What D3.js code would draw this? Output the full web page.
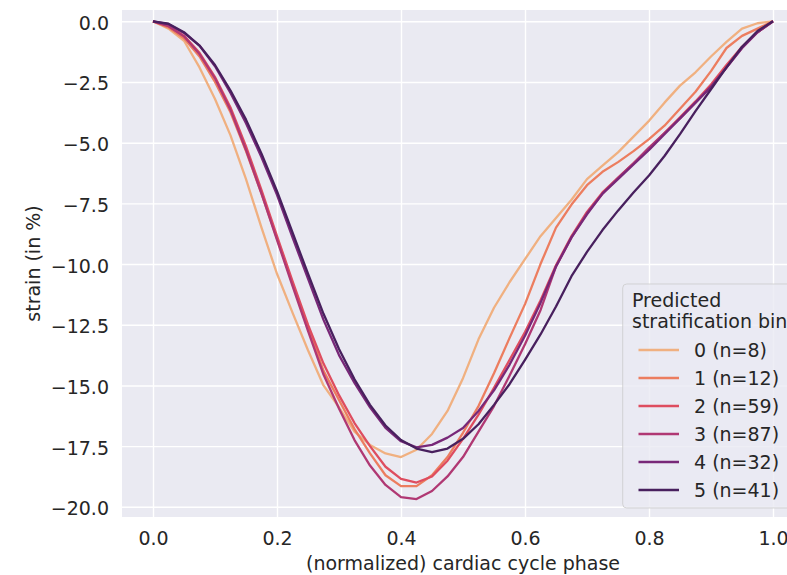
<!DOCTYPE html>
<html>
<head>
<meta charset="utf-8">
<script src="https://cdn.jsdelivr.net/npm/d3@7"></script>
<style>
  html, body { margin: 0; padding: 0; background: #ffffff; }
  svg { display: block; font-family: "DejaVu Sans", sans-serif; }
</style>
</head>
<body>
<svg id="chart" width="787" height="575"></svg>
<script>
// ---------------- data ----------------
const phase = [0, 0.025, 0.05, 0.075, 0.1, 0.125, 0.15, 0.175, 0.2, 0.225, 0.25, 0.275, 0.3, 0.325, 0.35, 0.375, 0.4, 0.425, 0.45, 0.475, 0.5, 0.525, 0.55, 0.575, 0.6, 0.625, 0.65, 0.675, 0.7, 0.725, 0.75, 0.775, 0.8, 0.825, 0.85, 0.875, 0.9, 0.925, 0.95, 0.975, 1];

const bin0 = [0, -0.3, -0.8, -1.9, -3.2, -4.7, -6.5, -8.5, -10.4, -12.0, -13.55, -15.0, -15.9, -16.9, -17.45, -17.8, -17.95, -17.65, -17.0, -16.05, -14.7, -13.1, -11.8, -10.75, -9.8, -8.85, -8.1, -7.35, -6.5, -5.95, -5.4, -4.75, -4.1, -3.35, -2.65, -2.1, -1.45, -0.85, -0.3, -0.08, 0];
const bin1 = [0, -0.25, -0.7, -1.45, -2.5, -3.75, -5.35, -7.1, -8.95, -10.8, -12.6, -14.4, -15.6, -16.8, -17.8, -18.7, -19.15, -19.15, -18.7, -17.95, -16.95, -15.85, -14.5, -13.05, -11.65, -10.0, -8.5, -7.55, -6.75, -6.2, -5.8, -5.35, -4.85, -4.3, -3.6, -2.9, -2.05, -1.1, -0.6, -0.3, 0];
const bin2 = [0, -0.18, -0.6, -1.3, -2.3, -3.55, -5.15, -6.95, -8.85, -10.7, -12.5, -14.1, -15.4, -16.55, -17.5, -18.35, -18.85, -19.0, -18.75, -18.1, -17.2, -16.2, -15.1, -13.95, -12.8, -11.5, -10.05, -8.85, -7.85, -7.05, -6.45, -5.85, -5.25, -4.6, -3.95, -3.3, -2.6, -1.8, -1.05, -0.45, 0];
const bin3 = [0, -0.2, -0.62, -1.35, -2.35, -3.65, -5.3, -7.1, -9.0, -10.9, -12.75, -14.55, -15.95, -17.25, -18.3, -19.1, -19.6, -19.68, -19.35, -18.75, -17.95, -16.9, -15.85, -14.6, -13.3, -11.9, -10.1, -8.9, -7.9, -7.1, -6.45, -5.85, -5.2, -4.6, -4.0, -3.35, -2.68, -1.9, -1.1, -0.45, 0];
const bin4 = [0, -0.12, -0.48, -1.0, -1.85, -2.95, -4.2, -5.6, -7.15, -8.9, -10.6, -12.3, -13.75, -14.9, -15.9, -16.75, -17.3, -17.55, -17.45, -17.15, -16.75, -16.05, -15.2, -14.15, -12.95, -11.6, -10.1, -8.9, -7.95, -7.1, -6.5, -5.9, -5.3, -4.65, -4.0, -3.35, -2.7, -1.9, -1.1, -0.45, 0];
const bin5 = [0, -0.1, -0.45, -1.0, -1.8, -2.85, -4.05, -5.45, -7.0, -8.7, -10.4, -12.05, -13.5, -14.75, -15.8, -16.65, -17.25, -17.6, -17.75, -17.6, -17.2, -16.6, -15.8, -14.95, -13.95, -12.9, -11.75, -10.5, -9.5, -8.6, -7.8, -7.05, -6.35, -5.55, -4.65, -3.7, -2.8, -1.9, -1.05, -0.4, 0];

const seriesLabels = ["0 (n=8)", "1 (n=12)", "2 (n=59)", "3 (n=87)", "4 (n=32)", "5 (n=41)"];
const seriesValues = [bin0, bin1, bin2, bin3, bin4, bin5];
const seriesColors = ["#f0b080", "#ec7d5f", "#de4d5f", "#b03873", "#782878", "#48205e"];

const xTicks = [0, 0.2, 0.4, 0.6, 0.8, 1.0];
const yTicks = [0, -2.5, -5, -7.5, -10, -12.5, -15, -17.5, -20];

const legendTitle = ["Predicted", "stratification bin"];
const xLabel = "(normalized) cardiac cycle phase";
const yLabel = "strain (in %)";

// ---------------- layout ----------------
const svg = d3.select("#chart");
const pLeft = 122, pRight = 804, pTop = 10, pBottom = 517;
const textColor = "#262626";
const fontSize = 19;

const x = d3.scaleLinear().domain([-0.05, 1.05]).range([pLeft, pRight]);
const y = d3.scaleLinear().domain([-20.42, 0.466]).range([pBottom, pTop]);

// plot background
svg.append("rect")
  .attr("x", pLeft).attr("y", pTop)
  .attr("width", pRight - pLeft).attr("height", pBottom - pTop)
  .attr("fill", "#EAEAF2");

// grid
const gx = svg.append("g")
  .attr("transform", `translate(0,${pBottom})`)
  .call(d3.axisBottom(x).tickValues(xTicks).tickSize(-(pBottom - pTop)).tickFormat(""));
const gy = svg.append("g")
  .attr("transform", `translate(${pLeft},0)`)
  .call(d3.axisLeft(y).tickValues(yTicks).tickSize(-(pRight - pLeft)).tickFormat(""));
[gx, gy].forEach(g => {
  g.select(".domain").remove();
  g.selectAll(".tick line").attr("stroke", "#ffffff").attr("stroke-width", 1.4);
});

// tick labels
const fmt = d3.format(".1f");
const ax = svg.append("g")
  .attr("transform", `translate(0,${pBottom})`)
  .call(d3.axisBottom(x).tickValues(xTicks).tickSize(0).tickPadding(15).tickFormat(fmt));
const ay = svg.append("g")
  .attr("transform", `translate(${pLeft},0)`)
  .call(d3.axisLeft(y).tickValues(yTicks).tickSize(0).tickPadding(13).tickFormat(fmt));
[ax, ay].forEach(g => {
  g.select(".domain").remove();
  g.selectAll(".tick line").remove();
  g.selectAll(".tick text")
    .attr("fill", textColor)
    .style("font-size", fontSize + "px")
    .style("font-family", "'DejaVu Sans', sans-serif");
});
ay.selectAll(".tick text").attr("dy", "0.42em");

// axis labels
svg.append("text")
  .attr("x", (pLeft + pRight) / 2).attr("y", 570)
  .attr("text-anchor", "middle")
  .attr("fill", textColor)
  .style("font-size", fontSize + "px")
  .text(xLabel);
svg.append("text")
  .attr("transform", `translate(39.5,${(pTop + pBottom) / 2}) rotate(-90)`)
  .attr("text-anchor", "middle")
  .attr("fill", textColor)
  .style("font-size", fontSize + "px")
  .text(yLabel);

// lines
const line = d3.line()
  .x((d, i) => x(phase[i]))
  .y(d => y(d));

svg.append("clipPath").attr("id", "plotclip")
  .append("rect").attr("x", pLeft).attr("y", pTop).attr("width", pRight - pLeft).attr("height", pBottom - pTop);

svg.append("g").attr("clip-path", "url(#plotclip)")
  .selectAll("path")
  .data(seriesValues)
  .join("path")
  .attr("d", d => line(d))
  .attr("fill", "none")
  .attr("stroke", (d, i) => seriesColors[i])
  .attr("stroke-width", 2.3)
  .attr("stroke-linejoin", "round")
  .attr("stroke-linecap", "butt");

// legend
const lg = svg.append("g");
lg.append("rect")
  .attr("x", 622.7).attr("y", 284)
  .attr("width", 200).attr("height", 224)
  .attr("rx", 4).attr("ry", 4)
  .attr("fill", "#EAEAF2").attr("fill-opacity", 0.8)
  .attr("stroke", "#cccccc").attr("stroke-opacity", 0.8).attr("stroke-width", 1);

lg.selectAll("text.title")
  .data(legendTitle)
  .join("text")
  .attr("class", "title")
  .attr("x", 632).attr("y", (d, i) => 306.7 + i * 21.5)
  .attr("fill", textColor)
  .style("font-size", fontSize + "px")
  .text(d => d);

const entries = lg.selectAll("g.entry")
  .data(seriesLabels)
  .join("g")
  .attr("class", "entry")
  .attr("transform", (d, i) => `translate(0,${350 + i * 28})`);
entries.append("line")
  .attr("x1", 638.5).attr("x2", 679)
  .attr("y1", 0).attr("y2", 0)
  .attr("stroke", (d, i) => seriesColors[i])
  .attr("stroke-width", 2.3);
entries.append("text")
  .attr("x", 694).attr("y", 7)
  .attr("fill", textColor)
  .style("font-size", fontSize + "px")
  .text(d => d);
</script>
</body>
</html>
